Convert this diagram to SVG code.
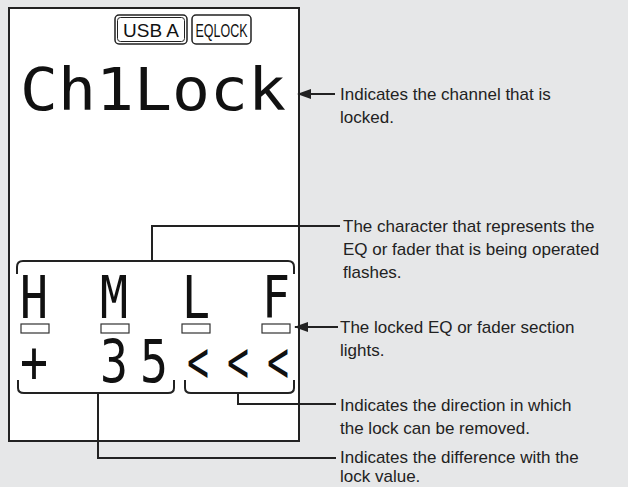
<svg xmlns="http://www.w3.org/2000/svg" width="628" height="487" viewBox="0 0 628 487">
<style>
.lbl{font-family:"Liberation Sans",Arial,sans-serif;font-size:17px;fill:#222}
.lcd{font-family:"DejaVu Sans Mono",monospace;font-size:58px;fill:#111;text-anchor:middle}
.ln{fill:none;stroke:#222;stroke-width:2}
.tag{font-family:"Liberation Sans",Arial,sans-serif;font-size:19px;fill:#111;text-anchor:middle}
</style>
<defs><marker id="ah" markerWidth="14" markerHeight="10" refX="13" refY="5" orient="auto" markerUnits="userSpaceOnUse"><path d="M0,0 L14,5 L0,10 Z" fill="#222"/></marker></defs>
<rect width="628" height="487" fill="#e6e7e8"/>
<g id="panel"><rect x="9" y="8" width="290" height="433" fill="#fff" stroke="#222" stroke-width="2"/></g>
<g id="tags">
<rect x="115" y="15" width="72" height="29" rx="4" fill="#fff" stroke="#222" stroke-width="1.5"/>
<rect x="117.5" y="17.5" width="67" height="24" rx="3" fill="none" stroke="#222" stroke-width="1"/>
<text x="151" y="37" class="tag">USB A</text>
<rect x="192" y="15" width="59" height="29" rx="4" fill="#fff" stroke="#222" stroke-width="1.5"/>
<text x="221.5" y="37" class="tag" textLength="52" lengthAdjust="spacingAndGlyphs">EQLOCK</text>
</g>
<g id="display1"><text x="153" y="110" class="lcd" textLength="266" lengthAdjust="spacingAndGlyphs">Ch1Lock</text></g>
<g id="display2">
<text x="34" y="318" class="lcd" textLength="28" lengthAdjust="spacingAndGlyphs">H</text>
<text x="114" y="318" class="lcd" textLength="28" lengthAdjust="spacingAndGlyphs">M</text>
<text x="196" y="318" class="lcd" textLength="28" lengthAdjust="spacingAndGlyphs">L</text>
<text x="276" y="318" class="lcd" textLength="28" lengthAdjust="spacingAndGlyphs">F</text>
<g fill="#fff" stroke="#333" stroke-width="1.2">
<rect x="21" y="324" width="28" height="9"/><rect x="101" y="324" width="28" height="9"/><rect x="182" y="324" width="28" height="9"/><rect x="262" y="324" width="28" height="9"/>
</g>
<text x="34" y="382" class="lcd" textLength="28" lengthAdjust="spacingAndGlyphs">+</text>
<text x="114" y="382" class="lcd" textLength="28" lengthAdjust="spacingAndGlyphs">3</text>
<text x="154" y="382" class="lcd" textLength="28" lengthAdjust="spacingAndGlyphs">5</text>
<text x="198" y="382" class="lcd" textLength="22" lengthAdjust="spacingAndGlyphs">&lt;</text>
<text x="238" y="382" class="lcd" textLength="22" lengthAdjust="spacingAndGlyphs">&lt;</text>
<text x="278" y="382" class="lcd" textLength="22" lengthAdjust="spacingAndGlyphs">&lt;</text>
</g>
<g id="connectors">
<path class="ln" d="M17,274 V267 Q17,261 23,261 H288 Q294,261 294,267 V274"/>
<path class="ln" d="M152,261 V226 H340"/>
<path class="ln" d="M18,380 V388 Q18,393 24,393 H168 Q174,393 174,388 V380"/>
<path class="ln" d="M98,393 V458 H336"/>
<path class="ln" d="M185,380 V388 Q185,393 191,393 H288 Q294,393 294,388 V380"/>
<path class="ln" d="M238,393 V404 H336"/>
<path class="ln" d="M335,94 H298" marker-end="url(#ah)"/>
<path class="ln" d="M338,327 H295" marker-end="url(#ah)"/>
</g>
<g id="labels">
<text class="lbl" x="340" y="100">Indicates the channel that is</text>
<text class="lbl" x="340" y="123">locked.</text>
<text class="lbl" x="343" y="232">The character that represents the</text>
<text class="lbl" x="343" y="255">EQ or fader that is being operated</text>
<text class="lbl" x="343" y="278">flashes.</text>
<text class="lbl" x="340" y="333">The locked EQ or fader section</text>
<text class="lbl" x="340" y="356">lights.</text>
<text class="lbl" x="340" y="411">Indicates the direction in which</text>
<text class="lbl" x="340" y="434">the lock can be removed.</text>
<text class="lbl" x="340" y="463">Indicates the difference with the</text>
<text class="lbl" x="340" y="482">lock value.</text>
</g>
</svg>
